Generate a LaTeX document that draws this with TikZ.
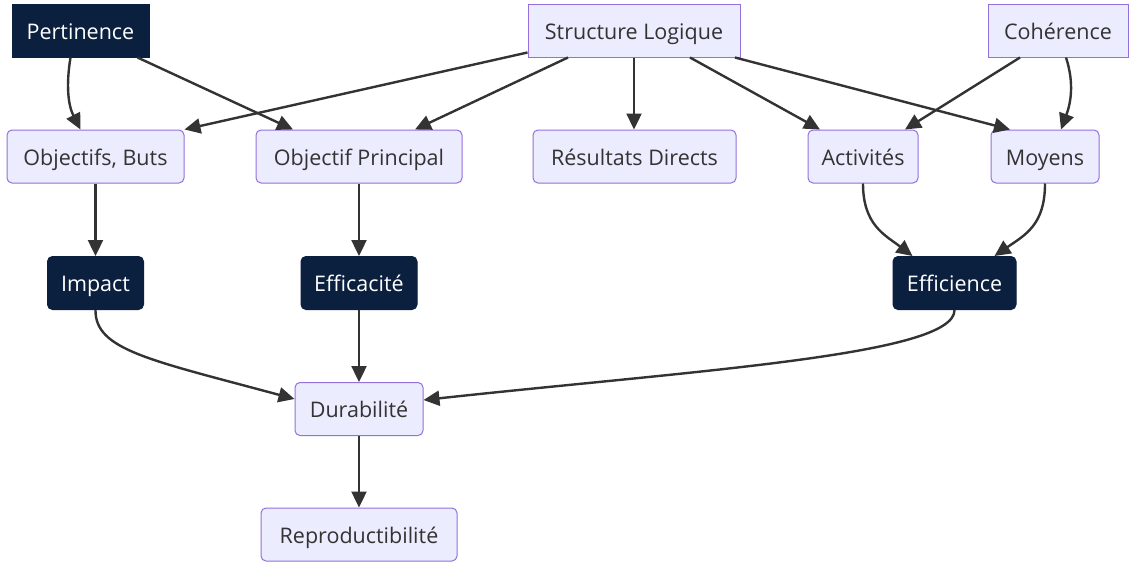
\documentclass[tikz,border=0pt]{standalone}
\usepackage{fontspec}
\setmainfont{Open Sans}
\usetikzlibrary{arrows.meta}
\definecolor{darkbox}{HTML}{0B1F3F}
\definecolor{lightbox}{HTML}{ECECFF}
\definecolor{lightborder}{HTML}{9370DB}
\definecolor{edgecol}{HTML}{333333}
\tikzset{
  base/.style={minimum height=53pt, inner sep=0pt, text height=19pt, text depth=2pt, font=\fontsize{21.5}{26}\selectfont, line width=1pt},
  lightsq/.style={base, fill=lightbox, draw=lightborder, text=edgecol},
  lightrd/.style={lightsq, rounded corners=5pt},
  darksq/.style={base, fill=darkbox, draw=darkbox, text=white},
  darkrd/.style={darksq, rounded corners=5pt},
  conn/.style={draw=edgecol, line width=2.4pt, -{Triangle[length=16pt,width=15pt]}},
}
\begin{document}
\begin{tikzpicture}[x=1pt,y=-1pt]
\useasboundingbox (0,0) rectangle (1135,562);
\fill[white] (0,0) rectangle (1135,562);
\node[darksq, minimum width=137pt] (pert) at (80.5,30.5) {Pertinence};
\node[lightsq, minimum width=212pt] (sl) at (634,30.5) {Structure Logique};
\node[lightsq, minimum width=140pt] (coh) at (1058,30.5) {Cohérence};
\node[lightrd, minimum width=177pt] (ob) at (95.5,156.5) {Objectifs, Buts};
\node[lightrd, minimum width=206pt] (op) at (359,156.5) {Objectif Principal};
\node[lightrd, minimum width=203pt] (rd) at (634.5,156.5) {Résultats Directs};
\node[lightrd, minimum width=110pt] (act) at (863,156.5) {Activités};
\node[lightrd, minimum width=108pt] (moy) at (1045,156.5) {Moyens};
\node[darkrd, minimum width=96pt] (imp) at (95.5,283) {Impact};
\node[darkrd, minimum width=116pt] (efa) at (359,283) {Efficacité};
\node[darkrd, minimum width=123pt] (efi) at (954.5,283) {Efficience};
\node[lightrd, minimum width=128pt] (dur) at (359,409) {Durabilité};
\node[lightrd, minimum width=196pt] (rep) at (359,534.5) {Reproductibilité};

\draw[conn] ([xshift=-10pt]pert.south) .. controls (66,85) and (68,105) .. ([xshift=-15pt]ob.north);
\draw[conn] ([xshift=57pt]pert.south) -- ([xshift=-66pt]op.north);
\draw[conn] ([yshift=-22pt]sl.west) -- (ob.north east);
\draw[conn] ([xshift=-66pt]sl.south) -- ([xshift=56pt]op.north);
\draw[conn] (sl.south) -- (sl.south |- rd.north);
\draw[conn] ([xshift=56pt]sl.south) -- ([xshift=-43pt]act.north);
\draw[conn] ([xshift=101pt]sl.south) -- ([xshift=-35pt]moy.north);
\draw[conn] ([xshift=-38pt]coh.south) -- ([xshift=42pt]act.north);
\draw[conn] ([xshift=8pt]coh.south) .. controls (1075,85) and (1070,105) .. ([xshift=16pt]moy.north);
\draw[conn] (ob.south) -- (imp.north);
\draw[conn] (op.south) -- (efa.north);
\draw[conn] (act.south) .. controls (863,225) and (885,235) .. ([xshift=-42pt]efi.north);
\draw[conn] (moy.south) .. controls (1045,225) and (1025,235) .. ([xshift=40pt]efi.north);
\draw[conn] (imp.south) .. controls (95,350) and (150,360) .. ([yshift=10pt]dur.west);
\draw[conn] (efa.south) -- (dur.north);
\draw[conn] (efi.south) .. controls (955,355) and (700,370) .. ([yshift=9pt]dur.east);
\draw[conn] (dur.south) -- (rep.north);
\end{tikzpicture}
\end{document}
